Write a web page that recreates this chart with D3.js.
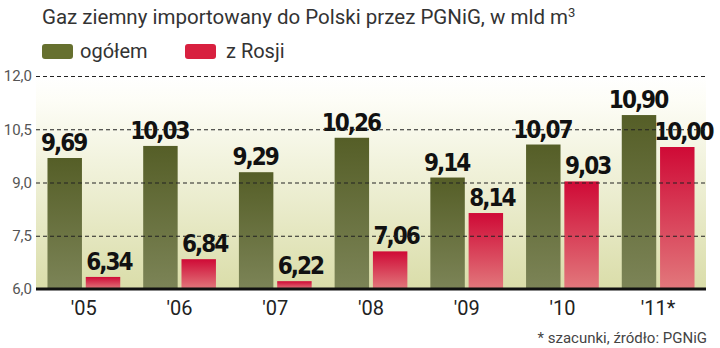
<!DOCTYPE html>
<html><head><meta charset="utf-8">
<script src="https://cdn.jsdelivr.net/npm/d3@7/dist/d3.min.js"></script>
<style>
body{margin:0;background:#fff;}
svg{display:block;}
</style></head>
<body>
<svg id="c" width="720" height="348"></svg>
<script>
const categories = ["'05","'06","'07","'08","'09","'10","'11*"];
const seriesNames = ["ogółem","z Rosji"];
const totalValues = [9.69,10.03,9.29,10.26,9.14,10.07,10.90];
const russiaValues = [6.34,6.84,6.22,7.06,8.14,9.03,10.00];
const yTicks = [6.0,7.5,9.0,10.5,12.0];
const titleText = "Gaz ziemny importowany do Polski przez PGNiG, w mld m";
const footnoteText = "* szacunki, źródło: PGNiG";

const svg = d3.select("#c");
const defs = svg.append("defs");
function vgrad(id, stops){
  const g = defs.append("linearGradient").attr("id",id).attr("x1",0).attr("y1",0).attr("x2",0).attr("y2",1);
  stops.forEach(s=>g.append("stop").attr("offset",s[0]).attr("stop-color",s[1]));
}
vgrad("bg",[[0,"#ffffff"],[0.12,"#fdfdf6"],[1,"#dadda9"]]);
vgrad("gG",[[0,"#555e27"],[1,"#7c8457"]]);
vgrad("gR",[[0,"#cf0a36"],[1,"#e2787c"]]);

const x0 = d3.scaleBand().domain(categories).range([36,706]).paddingInner(0.24).paddingOuter(0.12);
const x1 = d3.scaleBand().domain(seriesNames).range([0,x0.bandwidth()]).paddingInner(0.1);
const y = d3.scaleLinear().domain([6,12]).range([289,76]);

const rows = categories.map((c,i)=>({cat:c, vals:[{s:seriesNames[0],v:totalValues[i]},{s:seriesNames[1],v:russiaValues[i]}]}));
const fills = {"ogółem":"url(#gG)","z Rosji":"url(#gR)"};
const swatch = {"ogółem":"#66702f","z Rosji":"#d8203f"};

// plot background
svg.append("rect").attr("x",36).attr("y",y(12)).attr("width",706-36).attr("height",y(6)-y(12)).attr("fill","url(#bg)");

// bars
const g = svg.append("g");
const grp = g.selectAll("g").data(rows).join("g").attr("transform",d=>`translate(${x0(d.cat)},0)`);
grp.selectAll("rect").data(d=>d.vals).join("rect")
  .attr("x",d=>x1(d.s)).attr("width",x1.bandwidth())
  .attr("y",d=>y(d.v)).attr("height",d=>y(6)-y(d.v))
  .attr("fill",d=>fills[d.s]);

// grid (on top of bars)
const yAxis = d3.axisLeft(y).tickValues(yTicks).tickSize(-(706-36)).tickPadding(4)
  .tickFormat(d=>d3.format(".1f")(d).replace(".",","));
const ya = svg.append("g").attr("transform","translate(36,0)").call(yAxis);
ya.select(".domain").remove();
ya.selectAll(".tick line").attr("stroke","#222").attr("stroke-width",1.2).attr("stroke-dasharray","4,3");
ya.selectAll(".tick text").attr("font-family","Roboto").attr("font-size",15).attr("fill","#555").attr("x",-4);
ya.selectAll(".tick").filter(d=>d===6).select("line").remove();

// baseline
svg.append("line").attr("x1",36).attr("x2",706).attr("y1",y(6)).attr("y2",y(6)).attr("stroke","#111").attr("stroke-width",3);

// value labels
grp.selectAll("text").data(d=>d.vals).join("text")
  .attr("x",d=>x1(d.s)+x1.bandwidth()/2+(d.s===seriesNames[0]?-1:6))
  .attr("y",d=>y(d.v)-7)
  .attr("text-anchor","middle")
  .attr("font-family","DejaVu Sans Condensed, DejaVu Sans").attr("font-stretch","condensed")
  .attr("font-weight","bold").attr("font-size",24).attr("letter-spacing","-2px").attr("fill","#111")
  .text(d=>d3.format(".2f")(d.v).replace(".",","));

// x labels
const xAxis = d3.axisBottom(x0).tickSize(0).tickPadding(0);
const xa = svg.append("g").attr("transform",`translate(0,${y(6)})`).call(xAxis);
xa.select(".domain").remove();
xa.selectAll(".tick text").attr("font-family","Roboto").attr("font-size",20).attr("fill","#222").attr("dy",0).attr("y",26);

// title
const t = svg.append("text").attr("x",42).attr("y",24).attr("font-family","Roboto").attr("font-size",20.5).attr("fill","#333").text(titleText);
t.append("tspan").attr("font-size",13).attr("dy",-7).text("3");

// legend
const lg = svg.append("g").selectAll("g").data(seriesNames).join("g")
  .attr("transform",(d,i)=>`translate(${i===0?42:185},44)`);
lg.append("rect").attr("width",31).attr("height",15).attr("rx",3).attr("fill",d=>swatch[d]);
lg.append("text").attr("x",d=>d===seriesNames[0]?38:41).attr("y",14).attr("font-family","Roboto").attr("font-size",20).attr("fill","#333").text(d=>d);

// footnote
svg.append("text").attr("x",707).attr("y",343).attr("text-anchor","end").attr("font-family","Roboto").attr("font-size",15).attr("fill","#444").text(footnoteText);
</script>
</body></html>
